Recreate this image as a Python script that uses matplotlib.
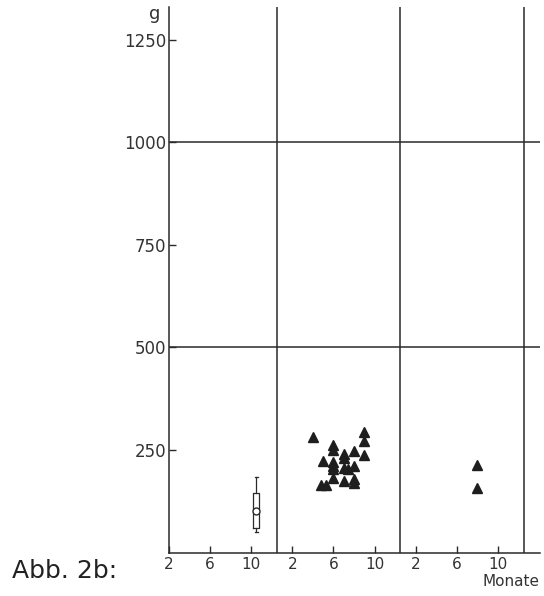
import matplotlib
matplotlib.use("Agg")
import matplotlib.pyplot as plt

# panel 2 (middle), months and weights in g
months_2 = [4, 9, 9, 6, 6, 7, 7, 8, 9, 5, 6, 6, 6, 7, 7.4, 8, 6, 7, 8, 8, 4.8, 5.3]
weights_2 = [282, 293, 271, 261, 251, 241, 231, 247, 237, 223, 220, 212, 204, 205, 204, 211, 181, 174, 179, 169, 165, 165]

# panel 3 (right)
months_3 = [8, 8]
weights_3 = [213, 157]

# panel 1 (left) box plot
box_month = 10.5
box_stats = {"whislo": 51, "q1": 59, "med": 102, "mean": 102, "q3": 144, "whishi": 185}

xtick_pos = [2, 6, 10, 14, 18, 22, 26, 30, 34]
xtick_labels = ["2", "6", "10", "2", "6", "10", "2", "6", "10"]
yticks = [250, 500, 750, 1000, 1250]
panel_offsets = [0, 12, 24]
dividers = [12.5, 24.5, 36.5]
hlines = [500, 1000]

ink = "#2a2a2a"

fig = plt.figure(figsize=(5.44, 5.96), dpi=100)
ax = fig.add_axes([169 / 544, 1 - 552.5 / 596, 371 / 544, 545.5 / 596])

ax.set_xlim(2, 38.1)
ax.set_ylim(0, 1330)

for d in dividers:
    ax.axvline(d, color=ink, lw=1.1)
for h in hlines:
    ax.axhline(h, color=ink, lw=1.1)

ax.plot([m + panel_offsets[1] for m in months_2], weights_2, ls="none",
        marker="^", ms=7.5, color="#1e1e1e")
ax.plot([m + panel_offsets[2] for m in months_3], weights_3, ls="none",
        marker="^", ms=7.5, color="#1e1e1e")

stats = dict(box_stats, fliers=[])
ax.bxp([stats], positions=[box_month + panel_offsets[0]], widths=0.6,
       showmeans=True, manage_ticks=False,
       boxprops=dict(color=ink, lw=0.9),
       whiskerprops=dict(color=ink, lw=0.9),
       capprops=dict(color=ink, lw=0.9),
       medianprops=dict(lw=0),
       meanprops=dict(marker="o", markerfacecolor="white", markeredgecolor=ink,
                      markersize=5))

for side in ["top", "right"]:
    ax.spines[side].set_visible(False)
for side in ["left", "bottom"]:
    ax.spines[side].set_color(ink)
    ax.spines[side].set_linewidth(1.1)

ax.set_yticks(yticks)
ax.set_yticklabels([str(v) for v in yticks])
ax.set_xticks(xtick_pos)
ax.set_xticklabels(xtick_labels)
ax.tick_params(axis="y", direction="in", length=5, width=1, color=ink,
               labelsize=12, labelcolor="#333333", pad=2)
ax.tick_params(axis="x", direction="in", length=5, width=1, color=ink,
               labelsize=11, labelcolor="#333333", pad=3)

fig.text(160 / 544, 1 - 14 / 596, "g", fontsize=13, color="#333333",
         ha="right", va="center")
fig.text(540 / 544, 1 - 582 / 596, "Monate", fontsize=11, color="#333333",
         ha="right", va="center")
fig.text(12 / 544, 1 - 571 / 596, "Abb. 2b:", fontsize=18, color="#222222",
         ha="left", va="center")

fig.savefig("out.png", dpi=100)
